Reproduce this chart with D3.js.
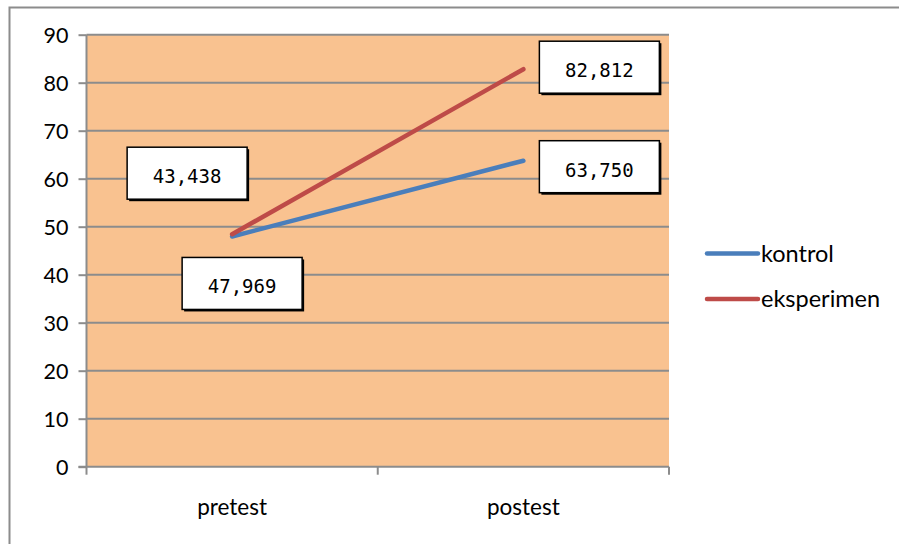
<!DOCTYPE html>
<html lang="en">
<head>
    <meta charset="UTF-8">
    <script type="text/javascript" src="https://cdn.jsdelivr.net/npm/d3@7/dist/d3.min.js"></script>
    <title>pretest postest</title>
    <style>
        body { margin: 0; background: #fff; }
    </style>
</head>
<body>
</body>
<script>
    var categories = ["pretest", "postest"];
    var seriesNames = ["kontrol", "eksperimen"];
    var kontrol = [47.969, 63.750];
    var eksperimen = [48.438, 82.812];
    // label text as printed in the boxes
    var kontrolLabels = ["47,969", "63,750"];
    var eksperimenLabels = ["43,438", "82,812"];
    var yTicks = [0, 10, 20, 30, 40, 50, 60, 70, 80, 90];
    var colors = ["#4A7EBB", "#BE4B48"];

    var width = 899, height = 544;
    var plot = {left: 86.5, right: 669, top: 34.7, bottom: 466.7};

    var svg = d3.select("body")
        .append("svg")
        .attr("width", width)
        .attr("height", height)

    // outer chart border
    svg.append("rect")
        .attr("x", 9.5)
        .attr("y", 7.5)
        .attr("width", width + 20)
        .attr("height", height + 20)
        .attr("fill", "none")
        .attr("stroke", "#8c8c8c")
        .attr("stroke-width", 2)

    var x = d3.scaleBand()
        .domain(categories)
        .range([plot.left, plot.right])

    var y = d3.scaleLinear()
        .domain([0, 90])
        .range([plot.bottom, plot.top])

    svg.append("rect")
        .attr("x", plot.left)
        .attr("y", plot.top)
        .attr("width", plot.right - plot.left)
        .attr("height", plot.bottom - plot.top)
        .attr("fill", "#F9C290")

    // gridlines
    svg.selectAll(".grid")
        .data(yTicks.filter(d => d > 0))
        .enter()
        .append("line")
        .attr("class", "grid")
        .attr("x1", plot.left)
        .attr("x2", plot.right)
        .attr("y1", d => y(d))
        .attr("y2", d => y(d))
        .attr("stroke", "#8c8c8c")
        .attr("stroke-width", 2)

    var yAxis = svg.append("g")
        .attr("transform", "translate(" + plot.left + ",0)")
        .call(d3.axisLeft(y).tickValues(yTicks).tickSize(8).tickPadding(10))
    yAxis.selectAll("path, line").attr("stroke", "#8c8c8c").attr("stroke-width", 2)
    yAxis.selectAll("text")
        .attr("font-family", "Lato, 'Open Sans', sans-serif")
        .attr("font-size", 21.5)
        .attr("fill", "#000")
        .attr("dy", "0.36em")
    yAxis.select(".domain").attr("d", "M0," + plot.bottom + "V" + plot.top)

    var xAxis = svg.append("g")
        .attr("transform", "translate(0," + plot.bottom + ")")
    xAxis.append("line")
        .attr("x1", plot.left - 8)
        .attr("x2", plot.right)
        .attr("stroke", "#8c8c8c")
        .attr("stroke-width", 2)
    var xBounds = categories.map(c => x(c)).concat([plot.right])
    xAxis.selectAll(".xtick")
        .data(xBounds)
        .enter()
        .append("line")
        .attr("x1", d => d)
        .attr("x2", d => d)
        .attr("y1", 0)
        .attr("y2", 8)
        .attr("stroke", "#8c8c8c")
        .attr("stroke-width", 2)
    xAxis.selectAll(".xlabel")
        .data(categories)
        .enter()
        .append("text")
        .attr("x", d => x(d) + x.bandwidth() / 2)
        .attr("y", 48)
        .attr("text-anchor", "middle")
        .attr("font-family", "Lato, 'Open Sans', sans-serif")
        .attr("font-size", 22.5)
        .text(d => d)

    var line = d3.line()
        .x((d, i) => x(categories[i]) + x.bandwidth() / 2)
        .y(d => y(d))

    var allSeries = [kontrol, eksperimen];
    svg.selectAll(".series")
        .data(allSeries)
        .enter()
        .append("path")
        .attr("class", "series")
        .attr("d", d => line(d))
        .attr("fill", "none")
        .attr("stroke", (d, i) => colors[i])
        .attr("stroke-width", 4.5)
        .attr("stroke-linecap", "round")

    // value boxes, placed relative to points
    var boxW = 120, boxH = 52;
    var boxes = [
        {v: kontrol[0], c: 0, text: kontrolLabels[0], dx: -50, dy: 21},
        {v: kontrol[1], c: 1, text: kontrolLabels[1], dx: 16, dy: -20},
        {v: eksperimen[0], c: 0, text: eksperimenLabels[0], dx: -105, dy: -87},
        {v: eksperimen[1], c: 1, text: eksperimenLabels[1], dx: 16, dy: -28}
    ];
    var bg = svg.selectAll(".vbox")
        .data(boxes)
        .enter()
        .append("g")
        .attr("transform", d => "translate(" + (x(categories[d.c]) + x.bandwidth() / 2 + d.dx) + "," + (y(d.v) + d.dy) + ")")
    bg.append("rect")
        .attr("x", 2)
        .attr("y", 2)
        .attr("width", boxW)
        .attr("height", boxH)
        .attr("fill", "#000")
    bg.append("rect")
        .attr("width", boxW)
        .attr("height", boxH)
        .attr("fill", "#fff")
        .attr("stroke", "#000")
        .attr("stroke-width", 1.5)
    bg.append("text")
        .attr("x", boxW / 2)
        .attr("y", 36)
        .attr("text-anchor", "middle")
        .attr("font-family", "'DejaVu Sans Mono', monospace")
        .attr("font-size", 19)
        .text(d => d.text)

    // legend
    var legend = svg.selectAll(".legend")
        .data(seriesNames)
        .enter()
        .append("g")
        .attr("transform", (d, i) => "translate(707," + (253.5 + i * 45.5) + ")")
    legend.append("line")
        .attr("x1", 0)
        .attr("x2", 51)
        .attr("stroke", (d, i) => colors[i])
        .attr("stroke-width", 4.5)
        .attr("stroke-linecap", "round")
    legend.append("text")
        .attr("x", 54)
        .attr("dy", "0.35em")
        .attr("font-family", "Lato, 'Open Sans', sans-serif")
        .attr("font-size", 23.5)
        .text(d => d)

</script>
</html>
